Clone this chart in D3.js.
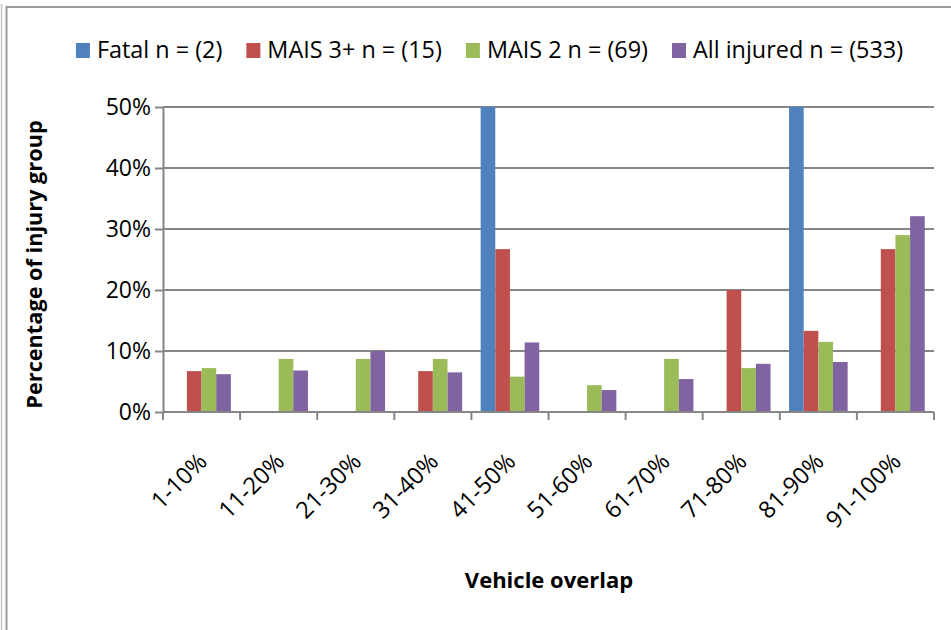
<!DOCTYPE html>
<html>
<head>
<meta charset="utf-8">
<script src="https://cdn.jsdelivr.net/npm/d3@7"></script>
<style>
  body { margin: 0; background: #fff; }
  svg { display: block; font-family: "Open Sans", sans-serif; }
</style>
</head>
<body>
<svg width="951" height="630"></svg>
<script>
// vehicle overlap groups
const categories = ['1-10%', '11-20%', '21-30%', '31-40%', '41-50%', '51-60%', '61-70%', '71-80%', '81-90%', '91-100%'];
const seriesNames = ['Fatal n = (2)', 'MAIS 3+ n = (15)', 'MAIS 2 n = (69)', 'All injured n = (533)'];
const seriesColors = ['#4F81BD', '#C0504D', '#9BBB59', '#8064A2'];

// share of injury group, per overlap class
const fatal     = [0, 0, 0, 0, 0.50, 0, 0, 0, 0.50, 0];
const mais3     = [0.067, 0, 0, 0.067, 0.267, 0, 0, 0.20, 0.133, 0.267];
const mais2     = [0.072, 0.087, 0.087, 0.087, 0.058, 0.044, 0.087, 0.072, 0.115, 0.29];
const allInjured = [0.062, 0.068, 0.10, 0.065, 0.114, 0.036, 0.054, 0.079, 0.082, 0.321];

const yTicks = [0, 0.1, 0.2, 0.3, 0.4, 0.5];

const seriesValues = [fatal, mais3, mais2, allInjured];

let svg = d3.select('svg'),
  width = +svg.attr('width'),
  height = +svg.attr('height');

const plot = { left: 163, right: 934, top: 107, bottom: 412 };

// frame lines like the pasted chart
svg.append('line').attr('x1', 1.5).attr('x2', 1.5).attr('y1', 4).attr('y2', height)
  .attr('stroke', '#c4c4c4').attr('stroke-width', 1.5);
svg.append('path').attr('d', `M6.5,${height} V7 H${width}`)
  .attr('fill', 'none').attr('stroke', '#9a9a9a').attr('stroke-width', 2);

const x0 = d3.scaleBand().domain(categories).range([plot.left, plot.right]).padding(0);
const side = x0.bandwidth() * 0.12;
const x1 = d3.scaleBand().domain(d3.range(seriesNames.length))
  .range([side, x0.bandwidth() - side]).padding(0);
const y = d3.scaleLinear().domain([0, 0.5]).range([plot.bottom, plot.top]);

// y axis with gridlines
const yAxis = svg.append('g')
  .attr('transform', `translate(${plot.left},0)`)
  .call(d3.axisLeft(y).tickValues(yTicks).tickFormat(d3.format('.0%'))
    .tickSize(8).tickSizeOuter(0).tickPadding(4));
yAxis.select('.domain').attr('stroke', '#868686').attr('stroke-width', 2);
yAxis.selectAll('.tick line').attr('stroke', '#868686').attr('stroke-width', 2);
yAxis.selectAll('.tick text').attr('font-size', 23).attr('fill', '#000')
  .attr('font-family', '"Open Sans", sans-serif');

svg.append('g').attr('class', 'grid')
  .selectAll('line')
  .data(yTicks.filter(d => d > 0))
  .enter()
  .append('line')
  .attr('x1', plot.left).attr('x2', plot.right)
  .attr('y1', d => y(d)).attr('y2', d => y(d))
  .attr('stroke', '#868686').attr('stroke-width', 2);

// bars
const groups = svg.append('g').attr('class', 'bars')
  .selectAll('g')
  .data(categories)
  .enter()
  .append('g')
  .attr('transform', d => `translate(${x0(d)},0)`);

groups.selectAll('rect')
  .data((d, i) => seriesValues.map((vals, s) => ({ s: s, v: vals[i] })))
  .enter()
  .append('rect')
  .attr('x', d => x1(d.s))
  .attr('width', x1.bandwidth())
  .attr('y', d => y(d.v))
  .attr('height', d => y(0) - y(d.v))
  .attr('fill', d => seriesColors[d.s]);

// x axis: ticks at category boundaries
const xAxis = svg.append('g').attr('transform', `translate(0,${plot.bottom})`);
xAxis.append('line').attr('x1', plot.left).attr('x2', plot.right)
  .attr('stroke', '#868686').attr('stroke-width', 2);
xAxis.selectAll('line.tk')
  .data(categories.concat(['end']))
  .enter()
  .append('line')
  .attr('class', 'tk')
  .attr('x1', (d, i) => i < categories.length ? x0(d) : plot.right)
  .attr('x2', (d, i) => i < categories.length ? x0(d) : plot.right)
  .attr('y1', 0).attr('y2', 8)
  .attr('stroke', '#868686').attr('stroke-width', 2);

xAxis.selectAll('text')
  .data(categories)
  .enter()
  .append('text')
  .attr('transform', d => `translate(${x0(d) + x0.bandwidth() / 2 + 7},${51}) rotate(-45)`)
  .attr('text-anchor', 'end')
  .attr('font-size', 23.5)
  .text(d => d);

// axis titles
svg.append('text')
  .attr('transform', `translate(42,${(plot.top + plot.bottom) / 2 + 5}) rotate(-90)`)
  .attr('text-anchor', 'middle')
  .attr('font-size', 21.7)
  .attr('font-weight', 'bold')
  .text('Percentage of injury group');

svg.append('text')
  .attr('x', 549).attr('y', 588)
  .attr('text-anchor', 'middle')
  .attr('font-size', 22)
  .attr('font-weight', 'bold')
  .text('Vehicle overlap');

// legend, laid out from measured text
const legend = svg.append('g').attr('class', 'legend');
let items = legend.selectAll('g')
  .data(seriesNames)
  .enter()
  .append('g');
items.append('rect').attr('width', 14).attr('height', 15).attr('y', 43)
  .attr('fill', (d, i) => seriesColors[i]);
items.append('text').attr('x', 21).attr('y', 58).attr('font-size', 23.4).text(d => d);

let cursor = 0;
const widths = [];
items.each(function () {
  widths.push(21 + this.querySelector('text').getComputedTextLength());
});
const gapLegend = 24;
const total = d3.sum(widths) + gapLegend * (widths.length - 1);
cursor = 489.5 - total / 2;
items.attr('transform', (d, i) => {
  const t = `translate(${cursor},0)`;
  cursor += widths[i] + gapLegend;
  return t;
});
</script>
</body>
</html>
